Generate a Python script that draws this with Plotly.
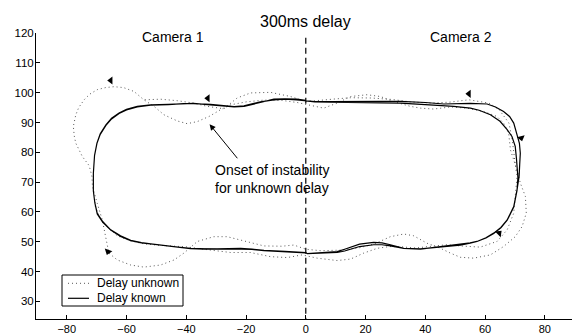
import plotly.graph_objects as go

# ---------------- data ----------------
# Delay known: two laps of the trajectory (x, y)
known_lap1 = [
    (0, 97.4), (-3, 97.8), (-7, 97.9), (-10.7, 97.8), (-15.2, 96.7), (-20.7, 95.4), (-24, 95.2),
    (-27.5, 95.4), (-31.9, 95.9), (-37.6, 96.4), (-40.9, 96.2), (-46, 96.1), (-51.9, 95.9),
    (-56.4, 95.4), (-60, 94.4), (-62.5, 93.2), (-65, 91.4), (-66.9, 89.2), (-68.8, 86.2),
    (-69.9, 83.1), (-70.7, 79), (-71.1, 73), (-71.1, 67), (-70.6, 63), (-69.8, 59.5), (-68, 56.8),
    (-65.3, 54), (-62, 52), (-58.6, 50.5), (-55, 49.7), (-51.9, 49.3), (-45.3, 48.6), (-38.6, 47.7),
    (-34, 47.5), (-29.6, 47.6), (-25, 47.7), (-21.8, 47.8), (-18, 47.5), (-14, 47.1), (-7, 46.8),
    (0, 46.4), (0.5, 46.0), (5, 46.3), (10.5, 46.7), (13, 47.5), (15, 48.2), (18, 49.2),
    (22.7, 49.8), (25.5, 49.6), (28.3, 49.0), (30.5, 48.3), (32.8, 47.8), (38.4, 47.5),
    (46.1, 48.4), (51.7, 49.0), (55, 49.6), (57.3, 50.1), (60.3, 51.3), (62.9, 52.9), (65.3, 54.8),
    (67.4, 57.3), (69.6, 61.8), (70.7, 67.4), (71.4, 72), (71.6, 76), (71.8, 79.7), (71.5, 83),
    (70.6, 86.6), (69.6, 89.8), (68.2, 92), (66.2, 93.7), (63.5, 95.2), (60.7, 96.2), (55, 96.4),
    (46.2, 96.2), (40, 96.7), (31.7, 97.1), (25, 97.1), (19.3, 97.0), (13, 96.9), (8.3, 97.0),
    (3, 97.0), (0, 97.4),
]
known_lap2 = [
    (0, 97.2), (-3, 97.6), (-7, 97.8), (-10.7, 97.6), (-15.2, 96.9), (-20.7, 95.6), (-24, 95.3),
    (-27.5, 95.6), (-31.9, 96.1), (-37.6, 96.3), (-40.9, 96.3), (-46, 96.0), (-51.9, 95.8),
    (-56.4, 95.2), (-60, 94.2), (-62.5, 93.0), (-65, 91.2), (-66.9, 89.0), (-68.8, 86.0),
    (-69.9, 83.0), (-70.7, 79), (-71.1, 73), (-71.1, 67), (-70.6, 63), (-69.8, 59.3), (-68, 56.6),
    (-65.3, 53.9), (-62, 51.8), (-58.6, 50.4), (-55, 49.6), (-51.9, 49.2), (-45.3, 48.5),
    (-38.6, 47.8), (-34, 47.6), (-29.6, 47.5), (-25, 47.6), (-21.8, 47.6), (-18, 47.4), (-14, 47.0),
    (-7, 46.7), (0, 46.3), (0.5, 46.0), (5, 46.1), (10.5, 46.4), (13, 46.9), (15, 47.5),
    (18, 48.4), (22.7, 49.0), (25.5, 49.0), (28.3, 48.6), (30.5, 48.1), (32.8, 47.8), (38.4, 47.6),
    (46.1, 48.3), (51.7, 48.9), (55, 49.5), (57.3, 50.1), (60.3, 51.3), (62.9, 52.8), (65.3, 54.7),
    (67.4, 57.2), (69.6, 61.6), (70.7, 67.2), (71.0, 71.5), (70.9, 74.1), (70.5, 78), (70.1, 82),
    (69, 85.3), (67.4, 87.6), (65, 90.4), (61.8, 92.6), (58, 94.1), (55.1, 94.8), (49.5, 95.4),
    (40, 96.0), (31.7, 96.5), (25, 96.6), (19.3, 96.6), (13, 96.7), (8.3, 96.8), (3, 96.9), (0, 97.2),
]

# Delay unknown: one continuous trajectory (x, y)
unknown_path = [
    (-70.5, 62), (-69, 58), (-66.5, 55), (-63.1, 52), (-58.6, 50.3), (-54.2, 49.3), (-49, 48.8),
    (-45.3, 48.6), (-40, 48.3), (-35, 47.6), (-30, 47.0), (-25.2, 46.4), (-18.5, 46.4),
    (-11.8, 45.0), (-6.2, 44.7), (-1.2, 45.6), (3.8, 44.5), (10.5, 43.7), (15, 44.2), (19.4, 46.2),
    (23.9, 47.8), (28, 48.4), (32, 48.3), (36.8, 47.9), (42, 48.5), (47.3, 49.0), (51.7, 48.6),
    (58.4, 48.2), (64, 50.1), (67.4, 54), (69.6, 59.6), (70.1, 65.2), (70.7, 71.9), (70.2, 75.2),
    (69.7, 79.7), (69.1, 84.2), (68, 89.8), (64.7, 94.3), (61.3, 96.5), (54.6, 97.6), (48, 96.8),
    (42, 96.5), (35, 96.9), (29, 97.7), (22, 98.2), (15, 98.3), (10, 97.9), (5, 97.4), (0, 97.0),
    (-5.1, 98.7), (-11.8, 100.1), (-18.5, 99.9), (-23, 98.2), (-27.4, 94.6), (-33, 95.4),
    (-37.5, 96.5), (-43, 97.3), (-48.6, 97.8), (-54.2, 97.6), (-57.5, 100.4), (-61, 101.7),
    (-64.2, 102.0), (-67, 101.7), (-69.8, 101.0), (-72.3, 99.5), (-74.2, 97.6), (-76, 95),
    (-77, 92.5), (-77.8, 88.7), (-77.5, 85.5), (-77, 83.1), (-74.8, 78.6), (-72.5, 75.5),
    (-71.6, 72), (-71.4, 68.5), (-69.8, 62.9), (-68.1, 57.3), (-67, 51.7), (-65.9, 46.2),
    (-63.1, 43.9), (-58.6, 42.2), (-54.2, 41.5), (-48.6, 42.2), (-44.1, 43.9), (-40.8, 46.2),
    (-36.3, 50.1), (-30.8, 51.7), (-26.3, 51.7), (-21.8, 50.6), (-14, 48.6), (-8, 48.5),
    (-4, 48.9), (0, 47.5), (5, 47.0), (12, 47.2), (18, 48.0), (23, 49.3), (26.1, 50.6),
    (28.3, 51.7), (32.8, 52.6), (36.1, 52.0), (40.6, 49.5), (45.1, 47.8), (48.4, 46.2),
    (51.7, 44.8), (56.2, 44.5), (61.8, 45.6), (66.2, 48.4), (70.1, 51.7), (72.4, 55.1),
    (73.8, 59.6), (73.5, 65.2), (71.8, 69.7), (70.7, 74.1), (68.5, 80.8), (67.9, 86.4),
    (66.2, 89.8), (64, 92), (59.5, 93.7), (54, 94.8), (48.4, 95.2), (42.8, 94.5), (38.4, 94.8),
    (35, 95.4), (29.4, 97), (25, 98.7), (20.5, 99.3), (15, 98.7), (10.5, 96.5), (6, 94.8),
    (1.6, 95.7), (-2.9, 96.7), (-8, 97.4), (-14, 97.5), (-20, 96.9), (-25.2, 95.9), (-28.5, 94.3),
    (-32.4, 92.0), (-36.3, 90.3), (-39.7, 89.6), (-43, 90.5), (-47.5, 92.6), (-50.8, 95.4),
    (-54.2, 97.6),
]

# Direction arrowheads along the path: x, y, heading (deg clockwise from up)
arrow_x = [-65.3, -32.8, 54.6, 72.1, 64.7, -66.2]
arrow_y = [104.1, 98.1, 99.6, 84.8, 52.9, 46.7]
arrow_heading = [-90, -90, -90, 165, 45, 200]

# Camera boundary (dashed line)
divider_x = [0, 0]
divider_y = [118.4, 24.1]

# Onset-of-instability callout: arrow head and tail
onset_head = (-32.2, 89.4)
onset_tail = (-22.5, 77.5)

x_ticks = [-80, -60, -40, -20, 0, 20, 40, 60, 80]
y_ticks = [30, 40, 50, 60, 70, 80, 90, 100, 110, 120]

title_text = "300ms delay"
camera_labels = [("Camera 1", -44.6), ("Camera 2", 52.0)]
onset_text = "Onset of instability<br>for unknown delay"
legend_names = ["Delay unknown", "Delay known"]

# ---------------- figure ----------------
FONT = "Liberation Sans, Arial, Helvetica, sans-serif"
W, H = 572, 335
ML, MR, MT, MB = 36, 0, 33, 16
PW, PH = W - ML - MR, H - MT - MB


def pxx(px):
    return (px - ML) / PW


def pxy(py):
    return (H - MB - py) / PH


DOT = dict(color="#555555", width=1, dash="1px,3px")
SOLID = dict(color="black", width=1.2)

fig = go.Figure()

fig.add_trace(go.Scatter(
    x=divider_x, y=divider_y, mode="lines",
    line=dict(color="black", width=1.2, dash="6px,4px"),
    showlegend=False, hoverinfo="skip",
))

fig.add_trace(go.Scatter(
    x=[p[0] for p in unknown_path], y=[p[1] for p in unknown_path],
    mode="lines", name=legend_names[0], line=DOT, showlegend=False,
))

known_all = known_lap1 + known_lap2
fig.add_trace(go.Scatter(
    x=[p[0] for p in known_all], y=[p[1] for p in known_all],
    mode="lines", name=legend_names[1], line=SOLID, showlegend=False,
))

fig.add_trace(go.Scatter(
    x=arrow_x, y=arrow_y, mode="markers",
    marker=dict(symbol="triangle-up", size=7, color="black", angle=arrow_heading,
                line=dict(width=0)),
    showlegend=False, hoverinfo="skip",
))

fig.add_annotation(
    x=onset_head[0], y=onset_head[1], ax=onset_tail[0], ay=onset_tail[1],
    xref="x", yref="y", axref="x", ayref="y", text="",
    showarrow=True, arrowhead=2, arrowsize=1.2, arrowwidth=1, arrowcolor="black",
)
fig.add_annotation(
    x=-31.2, y=71.1, xref="x", yref="y", text=onset_text, showarrow=False,
    xanchor="left", yanchor="middle", align="left",
    font=dict(family=FONT, size=14, color="black"),
)
for label, lx in camera_labels:
    fig.add_annotation(
        x=lx, y=118.7, xref="x", yref="y", text=label, showarrow=False,
        xanchor="center", yanchor="middle",
        font=dict(family=FONT, size=14, color="black"),
    )
fig.add_annotation(
    x=0, y=pxy(21), xref="x", yref="paper", text=title_text, showarrow=False,
    xanchor="center", yanchor="middle",
    font=dict(family=FONT, size=16, color="black"),
)

# legend box drawn by hand (MATLAB style)
fig.add_shape(type="rect", xref="paper", yref="paper",
              x0=pxx(62), x1=pxx(183), y0=pxy(306), y1=pxy(275),
              line=dict(color="black", width=1), fillcolor="white", layer="above")
for i, (name, style) in enumerate(zip(legend_names, [DOT, SOLID])):
    ly = 283.3 + 15 * i
    fig.add_shape(type="line", xref="paper", yref="paper",
                  x0=pxx(68), x1=pxx(89), y0=pxy(ly), y1=pxy(ly),
                  line=style, layer="above")
    fig.add_annotation(x=pxx(95), y=pxy(ly), xref="paper", yref="paper",
                       text=name, showarrow=False, xanchor="left", yanchor="middle",
                       font=dict(family=FONT, size=12, color="black"))

fig.update_layout(
    width=W, height=H,
    margin=dict(l=ML, r=MR, t=MT, b=MB, pad=0),
    paper_bgcolor="white", plot_bgcolor="white",
    font=dict(family=FONT, size=11, color="black"),
    showlegend=False,
    xaxis=dict(
        range=[-90.3, 89.1], tickvals=x_ticks, showgrid=False, zeroline=False,
        showline=True, linecolor="black", linewidth=1, mirror=False,
        ticks="inside", ticklen=4, tickcolor="black", tickwidth=1, automargin=False,
        tickfont=dict(family=FONT, size=11, color="black"), ticklabelstandoff=0,
    ),
    yaxis=dict(
        range=[24.1, 120], tickvals=y_ticks, showgrid=False, zeroline=False,
        showline=True, linecolor="black", linewidth=1, mirror=False,
        ticks="inside", ticklen=4, tickcolor="black", tickwidth=1, automargin=False,
        tickfont=dict(family=FONT, size=11.5, color="black"), ticklabelstandoff=-1,
    ),
)

fig.write_html(
    "out.html",
    config={"displayModeBar": False},
    post_script="document.body.style.margin='0';document.body.style.padding='0';"
                "document.documentElement.style.overflow='hidden';",
)
